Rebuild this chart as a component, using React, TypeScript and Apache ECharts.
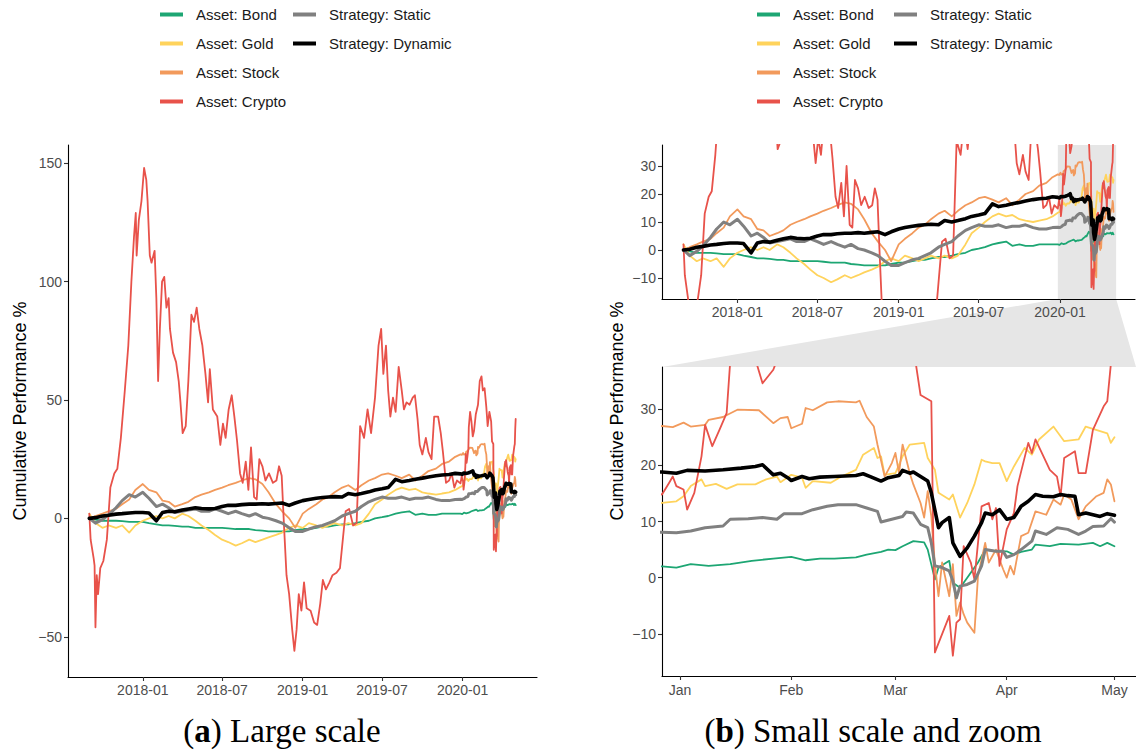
import React, { useEffect, useRef } from "react";
import * as echarts from "echarts";

const FONT = "'Liberation Sans', Arial, Helvetica, sans-serif";
const SERIF = "'Liberation Serif', 'Times New Roman', serif";

const seriesNames = ["Asset: Bond", "Asset: Gold", "Asset: Stock", "Asset: Crypto", "Strategy: Static", "Strategy: Dynamic"];
const assetNames = seriesNames.slice(0, 4);
const strategyNames = seriesNames.slice(4);
const seriesColors = ["#1DA673", "#FFD35C", "#F29A5C", "#E8524A", "#808080", "#000000"];
const seriesWidths = [1.8, 1.8, 1.8, 1.8, 3, 3.6];

const yTicksLarge = [-50, 0, 50, 100, 150];
const yTicksSmall = [-10, 0, 10, 20, 30];
const xTicksLong = ["2018-01-01", "2018-07-01", "2019-01-01", "2019-07-01", "2020-01-01"];
const xTicksZoom = ["2020-01-01", "2020-02-01", "2020-03-01", "2020-04-01", "2020-05-01"];
const monthNames = ["Jan", "Feb", "Mar", "Apr", "May", "Jun", "Jul", "Aug", "Sep", "Oct", "Nov", "Dec"];

// half-monthly dates before 2020
const halfMonths = [
  "2017-09-01", "2017-09-15", "2017-10-01", "2017-10-15", "2017-11-01", "2017-11-15", "2017-12-01", "2017-12-15",
  "2018-01-01", "2018-01-15", "2018-02-01", "2018-02-15", "2018-03-01", "2018-03-15", "2018-04-01", "2018-04-15",
  "2018-05-01", "2018-05-15", "2018-06-01", "2018-06-15", "2018-07-01", "2018-07-15", "2018-08-01", "2018-08-15",
  "2018-09-01", "2018-09-15", "2018-10-01", "2018-10-15", "2018-11-01", "2018-11-15", "2018-12-01", "2018-12-15",
  "2019-01-01", "2019-01-15", "2019-02-01", "2019-02-15", "2019-03-01", "2019-03-15", "2019-04-01", "2019-04-15",
  "2019-05-01", "2019-05-15", "2019-06-01", "2019-06-15", "2019-07-01", "2019-07-15", "2019-08-01", "2019-08-15",
  "2019-09-01", "2019-09-15", "2019-10-01", "2019-10-15", "2019-11-01", "2019-11-15", "2019-12-01", "2019-12-15",
];

const bondPre = [
  0, -0.5, -1, -1, -1, -1.2, -1.5, -1.5,
  -1.5, -2, -2.5, -3, -3, -3.2, -3.5, -3.5, -4, -4, -4, -4, -4, -4.2, -4.5, -4.5, -4.5, -5, -5.2, -5.5, -5.5, -5.5, -5.5, -5,
  -4.5, -4.5, -4, -3.5, -3.5, -3, -2.5, -2.5, -2, -1.5, -1, 0, 0.5, 1, 2, 2.5, 3, 1.5, 2, 1.5, 1.5, 2, 2, 2,
];
const goldPre = [
  2, -2, -4, -3, -4, -3, -6, -3,
  -1, 0, 1, 0, 1, 0, 2, 1, -1, -3, -5, -7, -9, -10, -11.5, -10.5, -9, -10, -9, -8, -7, -6, -4, -3,
  -4, -2, -3, -4, -3, -2, -3, -2, -3, -2, 2, 6, 8, 10, 12, 13, 12, 12.5, 11, 10.5, 10, 10.5, 11, 12,
];
const stockPre = [
  0, 1, 2, 3, 4, 6, 8, 12,
  14.5, 12, 11, 7.5, 7, 5, 6, 7, 9, 10, 11, 12, 13, 14, 15, 16, 17, 16.5, 14.5, 11, 6, 3, 0, -4,
  2, 4, 6, 8, 9, 11, 13, 14, 12, 14, 16, 17, 18.5, 19, 18, 17, 18.5, 16, 18, 20, 21, 23, 24, 26,
];
const staticPre = [
  0, -2, -0.5, 1.5, 4.5, 7.5, 10, 9,
  11, 8.5, 5, 6, 4.5, 2.5, 3, 3.5, 4, 3, 3, 4, 3, 2, 3, 2, 1, 2, 0.5, 0, -1, -2, -4, -5.5,
  -5.5, -4.5, -3.5, -3, -2, -1, 1, 2, 3, 5, 7, 8, 9, 8.5, 8.5, 9, 8, 8.5, 8.5, 9, 8, 7.5, 7.5, 8,
];
const dynamicPre = [
  0, 0.3, 1, 1.3, 1.8, 2, 2.3, 2.5,
  2.5, 2.3, -1, 2.5, 3, 2.8, 3.5, 4, 4.5, 4.2, 4, 4.2, 5, 5.5, 5.5, 5.8, 6, 6, 6.2, 6, 6.3, 6.5, 5.5, 6.5,
  7.5, 8, 8.5, 8.8, 9, 9.2, 9, 10.5, 10, 10.5, 11.2, 12, 12.5, 13, 16.5, 15.5, 16, 16.5, 17, 17.5, 18, 18.3, 18.5, 19,
];

const cryptoPre: [string, number][] = [
  ["2017-09-01", 2], ["2017-09-04", -9], ["2017-09-11", -17], ["2017-09-13", -20], ["2017-09-15", -46], ["2017-09-18", -24],
  ["2017-09-21", -32], ["2017-09-26", -21], ["2017-10-03", -18], ["2017-10-11", -9], ["2017-10-19", 13], ["2017-10-28", 19],
  ["2017-11-04", 21], ["2017-11-12", 34], ["2017-11-21", 54], ["2017-11-29", 73], ["2017-12-06", 100], ["2017-12-12", 119],
  ["2017-12-16", 129], ["2017-12-18", 111], ["2017-12-23", 126], ["2017-12-29", 134], ["2018-01-04", 148], ["2018-01-09", 143],
  ["2018-01-12", 134], ["2018-01-17", 111], ["2018-01-21", 108], ["2018-01-28", 113], ["2018-02-01", 93], ["2018-02-05", 58],
  ["2018-02-09", 80], ["2018-02-14", 100], ["2018-02-19", 102], ["2018-02-24", 89], ["2018-03-01", 93], ["2018-03-04", 80],
  ["2018-03-11", 70], ["2018-03-18", 66], ["2018-03-24", 58], ["2018-03-28", 49], ["2018-04-02", 36], ["2018-04-09", 39],
  ["2018-04-15", 58], ["2018-04-22", 86], ["2018-04-28", 83], ["2018-05-04", 89], ["2018-05-10", 80], ["2018-05-17", 73],
  ["2018-05-24", 61], ["2018-05-30", 49], ["2018-06-03", 63], ["2018-06-10", 46], ["2018-06-20", 43], ["2018-06-27", 31],
  ["2018-07-03", 40], ["2018-07-09", 34], ["2018-07-16", 46], ["2018-07-23", 52], ["2018-07-29", 43], ["2018-08-04", 33],
  ["2018-08-11", 19], ["2018-08-17", 15], ["2018-08-24", 24], ["2018-08-30", 12], ["2018-09-05", 30], ["2018-09-12", 9],
  ["2018-09-18", 8], ["2018-09-24", 25], ["2018-10-01", 22], ["2018-10-08", 16], ["2018-10-16", 19], ["2018-10-25", 15],
  ["2018-11-02", 16], ["2018-11-08", 22], ["2018-11-14", 18], ["2018-11-19", -2], ["2018-11-25", -24], ["2018-12-01", -32],
  ["2018-12-08", -47], ["2018-12-13", -56], ["2018-12-18", -47], ["2018-12-23", -32], ["2018-12-29", -39], ["2019-01-04", -27],
  ["2019-01-10", -38], ["2019-01-19", -39], ["2019-01-27", -44], ["2019-02-03", -45], ["2019-02-10", -36], ["2019-02-16", -26],
  ["2019-02-23", -30], ["2019-03-03", -27], ["2019-03-10", -24], ["2019-03-19", -23], ["2019-03-27", -21], ["2019-04-03", -8],
  ["2019-04-09", 3], ["2019-04-17", 4], ["2019-04-26", -3], ["2019-05-04", -2], ["2019-05-12", 39], ["2019-05-21", 34],
  ["2019-05-29", 46], ["2019-06-06", 36], ["2019-06-15", 51], ["2019-06-23", 73], ["2019-06-29", 80], ["2019-07-04", 61],
  ["2019-07-10", 73], ["2019-07-15", 54], ["2019-07-20", 43], ["2019-07-26", 51], ["2019-08-01", 45], ["2019-08-08", 64],
  ["2019-08-15", 54], ["2019-08-20", 46], ["2019-08-26", 49], ["2019-09-02", 48], ["2019-09-09", 51], ["2019-09-14", 52],
  ["2019-09-20", 42], ["2019-09-25", 31], ["2019-10-01", 27], ["2019-10-09", 34], ["2019-10-15", 28], ["2019-10-22", 25],
  ["2019-10-28", 43], ["2019-11-06", 43], ["2019-11-12", 36], ["2019-11-17", 28], ["2019-11-24", 15], ["2019-12-01", 16],
  ["2019-12-07", 19], ["2019-12-13", 13], ["2019-12-19", 16],
];

const bond2020: [string, number][] = [
  ["2019-12-27", 2.0], ["2019-12-31", 1.8], ["2020-01-04", 2.4], ["2020-01-09", 2.1], ["2020-01-15", 2.4], ["2020-01-21", 3.0],
  ["2020-01-27", 3.4], ["2020-02-01", 3.7], ["2020-02-05", 3.1], ["2020-02-09", 3.4], ["2020-02-13", 3.4], ["2020-02-19", 3.6],
  ["2020-02-22", 4.1], ["2020-02-26", 4.6], ["2020-02-28", 5.0], ["2020-03-01", 4.9], ["2020-03-03", 5.6], ["2020-03-06", 6.5],
  ["2020-03-09", 6.3], ["2020-03-10", 5.0], ["2020-03-12", -0.3], ["2020-03-13", 1.8], ["2020-03-16", 3.0], ["2020-03-17", -0.9],
  ["2020-03-19", -1.8], ["2020-03-21", 0], ["2020-03-24", 2.7], ["2020-03-26", 5.0], ["2020-03-29", 4.7], ["2020-04-01", 4.7],
  ["2020-04-03", 4.1], ["2020-04-05", 4.6], ["2020-04-08", 5.0], ["2020-04-09", 5.9], ["2020-04-13", 5.6], ["2020-04-16", 6.0],
  ["2020-04-21", 5.9], ["2020-04-25", 6.2], ["2020-04-27", 5.6], ["2020-04-29", 6.2], ["2020-05-01", 5.6],
];
const gold2020: [string, number][] = [
  ["2019-12-27", 13.3], ["2019-12-31", 13.6], ["2020-01-02", 14.5], ["2020-01-04", 16.3], ["2020-01-07", 17.5], ["2020-01-08", 16.3],
  ["2020-01-11", 16.7], ["2020-01-14", 15.8], ["2020-01-17", 16.6], ["2020-01-22", 16.6], ["2020-01-25", 17.5], ["2020-01-28", 18.0],
  ["2020-01-29", 17.0], ["2020-02-01", 18.3], ["2020-02-04", 17.8], ["2020-02-05", 16.0], ["2020-02-07", 17.2], ["2020-02-12", 16.9],
  ["2020-02-15", 18.0], ["2020-02-19", 19.2], ["2020-02-21", 21.9], ["2020-02-24", 23.1], ["2020-02-25", 21.3], ["2020-02-26", 21.6],
  ["2020-02-27", 18.3], ["2020-03-01", 18.6], ["2020-03-03", 21.6], ["2020-03-05", 23.7], ["2020-03-09", 24.0], ["2020-03-10", 21.3],
  ["2020-03-12", 19.2], ["2020-03-13", 15.1], ["2020-03-16", 13.9], ["2020-03-17", 14.8], ["2020-03-19", 10.7], ["2020-03-21", 13.3],
  ["2020-03-23", 16.6], ["2020-03-25", 21.0], ["2020-03-26", 20.7], ["2020-03-28", 20.4], ["2020-03-30", 20.4], ["2020-04-01", 17.2],
  ["2020-04-03", 19.8], ["2020-04-06", 23.1], ["2020-04-08", 21.9], ["2020-04-10", 24.6], ["2020-04-14", 26.9], ["2020-04-17", 24.3],
  ["2020-04-21", 24.6], ["2020-04-23", 26.9], ["2020-04-29", 25.7], ["2020-04-30", 24.0], ["2020-05-01", 25.0],
];
const stock2020: [string, number][] = [
  ["2019-12-27", 27.0], ["2019-12-30", 26.8], ["2020-01-02", 27.6], ["2020-01-04", 26.9], ["2020-01-08", 27.2], ["2020-01-09", 28.1],
  ["2020-01-13", 28.6], ["2020-01-17", 29.9], ["2020-01-23", 29.8], ["2020-01-27", 27.5], ["2020-01-29", 28.4], ["2020-01-31", 28.6],
  ["2020-02-01", 26.6], ["2020-02-04", 27.4], ["2020-02-05", 30.2], ["2020-02-07", 29.8], ["2020-02-11", 31.2], ["2020-02-14", 31.4],
  ["2020-02-19", 31.2], ["2020-02-20", 31.5], ["2020-02-22", 28.6], ["2020-02-24", 26.9], ["2020-02-25", 23.7], ["2020-02-27", 18.0],
  ["2020-02-29", 20.4], ["2020-03-01", 22.2], ["2020-03-02", 18.6], ["2020-03-03", 23.7], ["2020-03-05", 18.6], ["2020-03-06", 16.6],
  ["2020-03-08", 13.3], ["2020-03-09", 10.7], ["2020-03-10", 15.4], ["2020-03-11", 10.9], ["2020-03-12", 2.4], ["2020-03-13", -3.3],
  ["2020-03-14", 2.7], ["2020-03-16", -3.3], ["2020-03-17", 2.4], ["2020-03-18", -6.8], ["2020-03-19", -4.4], ["2020-03-20", -6.5],
  ["2020-03-21", -8.0], ["2020-03-23", -9.8], ["2020-03-24", 0.3], ["2020-03-26", 6.2], ["2020-03-27", 2.7], ["2020-03-29", 5.0],
  ["2020-03-31", 1.5], ["2020-04-01", 0], ["2020-04-02", 2.1], ["2020-04-03", 0.6], ["2020-04-05", 7.4], ["2020-04-07", 8.0],
  ["2020-04-09", 11.8], ["2020-04-12", 11.2], ["2020-04-14", 13.9], ["2020-04-16", 13.0], ["2020-04-17", 14.8], ["2020-04-19", 13.9],
  ["2020-04-21", 10.4], ["2020-04-23", 12.7], ["2020-04-26", 14.5], ["2020-04-28", 15.1], ["2020-04-29", 17.5], ["2020-04-30", 16.6],
  ["2020-05-01", 13.6],
];
const crypto2020: [string, number][] = [
  ["2019-12-27", 14.8], ["2019-12-29", 16.9], ["2019-12-30", 18.0], ["2019-12-31", 16.3], ["2020-01-02", 15.7], ["2020-01-03", 12.1],
  ["2020-01-05", 15.1], ["2020-01-07", 21.6], ["2020-01-08", 27.2], ["2020-01-10", 23.4], ["2020-01-12", 26.3], ["2020-01-14", 29.3],
  ["2020-01-15", 38.5], ["2020-01-18", 45], ["2020-01-21", 41], ["2020-01-24", 34.6], ["2020-01-27", 37], ["2020-01-31", 44],
  ["2020-02-05", 48], ["2020-02-09", 58], ["2020-02-13", 60], ["2020-02-16", 54], ["2020-02-20", 55], ["2020-02-24", 47],
  ["2020-02-27", 39], ["2020-03-02", 45], ["2020-03-06", 41], ["2020-03-08", 32.5], ["2020-03-11", 31.4], ["2020-03-12", -13.3],
  ["2020-03-16", -6.8], ["2020-03-17", -13.9], ["2020-03-18", -8.0], ["2020-03-19", -7.4], ["2020-03-20", 5.6], ["2020-03-22", 2.7],
  ["2020-03-23", -0.3], ["2020-03-25", 12.7], ["2020-03-27", 13.3], ["2020-03-28", 10.4], ["2020-03-29", 12.4], ["2020-03-30", 2.1],
  ["2020-04-01", 8.6], ["2020-04-03", 11.5], ["2020-04-04", 16.3], ["2020-04-07", 24.0], ["2020-04-08", 22.2], ["2020-04-09", 24.6],
  ["2020-04-13", 19.2], ["2020-04-15", 18.0], ["2020-04-16", 14.5], ["2020-04-17", 21.3], ["2020-04-20", 22.5], ["2020-04-21", 18.6],
  ["2020-04-23", 18.6], ["2020-04-25", 26.3], ["2020-04-28", 30.5], ["2020-04-29", 31.4], ["2020-04-30", 38], ["2020-05-01", 42],
];
const static2020: [string, number][] = [
  ["2019-12-27", 8.1], ["2019-12-31", 8.0], ["2020-01-04", 8.3], ["2020-01-08", 8.9], ["2020-01-13", 9.2], ["2020-01-15", 10.4],
  ["2020-01-20", 10.5], ["2020-01-24", 10.7], ["2020-01-28", 10.4], ["2020-01-30", 11.4], ["2020-02-04", 11.4], ["2020-02-07", 12.1],
  ["2020-02-11", 12.7], ["2020-02-14", 13.0], ["2020-02-19", 13.0], ["2020-02-22", 12.4], ["2020-02-25", 11.8], ["2020-02-26", 9.9],
  ["2020-02-29", 10.4], ["2020-03-03", 10.9], ["2020-03-04", 11.7], ["2020-03-06", 11.5], ["2020-03-08", 9.5], ["2020-03-10", 8.9],
  ["2020-03-11", 6.2], ["2020-03-12", 2.1], ["2020-03-14", 1.8], ["2020-03-16", 1.2], ["2020-03-17", -0.6], ["2020-03-18", -3.6],
  ["2020-03-19", -1.5], ["2020-03-21", -1.2], ["2020-03-23", -0.6], ["2020-03-25", 2.1], ["2020-03-26", 5.0], ["2020-03-29", 4.7],
  ["2020-03-31", 4.7], ["2020-04-01", 3.6], ["2020-04-03", 4.1], ["2020-04-05", 5.0], ["2020-04-08", 6.5], ["2020-04-09", 8.3],
  ["2020-04-12", 7.7], ["2020-04-15", 8.9], ["2020-04-18", 8.6], ["2020-04-21", 7.7], ["2020-04-23", 8.3], ["2020-04-25", 9.1],
  ["2020-04-28", 9.2], ["2020-04-30", 10.5], ["2020-05-01", 9.9],
];
const dynamic2020: [string, number][] = [
  ["2019-12-27", 18.8], ["2019-12-31", 18.6], ["2020-01-03", 19.1], ["2020-01-08", 19.0], ["2020-01-13", 19.2], ["2020-01-18", 19.5],
  ["2020-01-22", 19.8], ["2020-01-24", 20.1], ["2020-01-27", 18.3], ["2020-01-29", 18.6], ["2020-01-31", 17.8], ["2020-02-01", 17.3],
  ["2020-02-04", 18.0], ["2020-02-06", 17.6], ["2020-02-09", 17.9], ["2020-02-13", 18.0], ["2020-02-19", 18.2], ["2020-02-21", 18.5],
  ["2020-02-23", 18.0], ["2020-02-26", 17.2], ["2020-02-28", 17.8], ["2020-03-02", 18.2], ["2020-03-03", 19.1], ["2020-03-05", 18.6],
  ["2020-03-06", 18.8], ["2020-03-08", 18.0], ["2020-03-10", 17.2], ["2020-03-11", 15.1], ["2020-03-13", 8.9], ["2020-03-14", 9.8],
  ["2020-03-16", 10.7], ["2020-03-17", 6.2], ["2020-03-19", 3.8], ["2020-03-21", 5.3], ["2020-03-23", 7.4], ["2020-03-25", 9.8],
  ["2020-03-26", 11.5], ["2020-03-28", 11.2], ["2020-03-30", 12.1], ["2020-04-01", 10.4], ["2020-04-03", 10.7], ["2020-04-05", 12.7],
  ["2020-04-07", 13.6], ["2020-04-09", 14.8], ["2020-04-11", 14.5], ["2020-04-14", 14.4], ["2020-04-16", 14.8], ["2020-04-18", 14.6],
  ["2020-04-20", 14.5], ["2020-04-21", 11.2], ["2020-04-23", 11.5], ["2020-04-25", 11.2], ["2020-04-27", 10.9], ["2020-04-29", 11.4],
  ["2020-05-01", 11.1],
];

const toTs = (s: string) => {
  const [y, m, d] = s.split("-").map(Number);
  return new Date(y, m - 1, d).getTime();
};
const fromPre = (vals: number[]) => halfMonths.map((d, i) => [toTs(d), vals[i]]);
const fromPairs = (arr: [string, number][]) => arr.map(([d, v]) => [toTs(d), v]);

const fmtNum = (v: number) => (v < 0 ? "\u2212" + Math.abs(v) : String(v));
const fmtYM = (v: number) => {
  const d = new Date(v);
  return d.getFullYear() + "-" + String(d.getMonth() + 1).padStart(2, "0");
};
const fmtMon = (v: number) => monthNames[new Date(v).getMonth()];

export default function App() {
  const ref = useRef<HTMLDivElement>(null);
  useEffect(() => {
    if (!ref.current) return;
    const chart = echarts.init(ref.current, null, { renderer: "svg" });

    const allData = [
      [...fromPre(bondPre), ...fromPairs(bond2020)],
      [...fromPre(goldPre), ...fromPairs(gold2020)],
      [...fromPre(stockPre), ...fromPairs(stock2020)],
      [...fromPairs(cryptoPre), ...fromPairs(crypto2020)],
      [...fromPre(staticPre), ...fromPairs(static2020)],
      [...fromPre(dynamicPre), ...fromPairs(dynamic2020)],
    ];

    const dataStart = toTs("2017-09-01");
    const dataEnd = toTs("2020-05-01");
    const pad = (dataEnd - dataStart) * 0.05;
    const longMin = dataStart - pad;
    const longMax = dataEnd + pad;
    const zoomMin = toTs("2019-12-27");
    const zoomMax = toTs("2020-05-07");
    const largeMin = -67;
    const largeMax = 157.7;
    const smallMin = -17.5;
    const smallMax = 37.5;

    const longTickTs = xTicksLong.map(toTs);
    const zoomTickTs = xTicksZoom.map(toTs);

    const axisLine = { show: true, onZero: false, lineStyle: { color: "#000", width: 1.1 } };
    const tick = (vals: number[]) => ({ show: true, length: 4, lineStyle: { color: "#333", width: 1.1 }, customValues: vals });
    const label = (vals: number[], fmt: any, margin: number) => ({
      show: true, color: "#4D4D4D", fontSize: 14, fontFamily: FONT, margin, customValues: vals, formatter: fmt,
    });

    const xAxes = [
      { type: "value", gridIndex: 0, min: longMin, max: longMax, axisLine, axisTick: tick(longTickTs), axisLabel: label(longTickTs, fmtYM, 6), splitLine: { show: false } },
      { type: "value", gridIndex: 1, min: longMin, max: longMax, axisLine, axisTick: tick(longTickTs), axisLabel: label(longTickTs, fmtYM, 6), splitLine: { show: false } },
      { type: "value", gridIndex: 2, min: zoomMin, max: zoomMax, axisLine, axisTick: tick(zoomTickTs), axisLabel: label(zoomTickTs, fmtMon, 7), splitLine: { show: false } },
    ];
    const yAxes = [
      {
        type: "value", gridIndex: 0, min: largeMin, max: largeMax, axisLine, axisTick: tick(yTicksLarge),
        axisLabel: label(yTicksLarge, fmtNum, 6), splitLine: { show: false },
        name: "Cumulative Performance %", nameLocation: "middle", nameGap: 39, nameRotate: 90,
        nameTextStyle: { fontSize: 18, color: "#000", fontFamily: FONT },
      },
      { type: "value", gridIndex: 1, min: smallMin, max: smallMax, axisLine, axisTick: tick(yTicksSmall), axisLabel: label(yTicksSmall, fmtNum, 6), splitLine: { show: false } },
      { type: "value", gridIndex: 2, min: smallMin, max: smallMax, axisLine, axisTick: tick(yTicksSmall), axisLabel: label(yTicksSmall, fmtNum, 6), splitLine: { show: false } },
    ];

    const series: any[] = [
      {
        type: "line", xAxisIndex: 1, yAxisIndex: 1, data: [], z: 1, silent: true,
        markArea: {
          silent: true, itemStyle: { color: "#E6E6E6" },
          data: [[{ xAxis: zoomMin, yAxis: smallMin }, { xAxis: zoomMax, yAxis: smallMax }]],
        },
      },
    ];
    for (let g = 0; g < 3; g++) {
      seriesNames.forEach((name, i) => {
        series.push({
          type: "line", name, xAxisIndex: g, yAxisIndex: g, data: allData[i],
          showSymbol: false, symbol: "none", silent: true, clip: true, z: 3 + i,
          color: seriesColors[i],
          lineStyle: { color: seriesColors[i], width: seriesWidths[i], join: "round", cap: "round" },
        });
      });
    }

    const legendBase = {
      orient: "vertical", top: 6, icon: "rect", itemWidth: 23, itemHeight: 4, itemGap: 12,
      selectedMode: false, padding: 0,
      textStyle: { fontSize: 15, color: "#1A1A1A", fontFamily: FONT, padding: [0, 0, 0, 8], lineHeight: 17 },
    };

    chart.setOption({
      animation: false,
      backgroundColor: "#fff",
      grid: [
        { left: 68, top: 145, width: 469, height: 532 },
        { left: 662, top: 145, width: 473, height: 154 },
        { left: 662, top: 367, width: 474, height: 309 },
      ],
      legend: [
        { ...legendBase, left: 160, data: assetNames },
        { ...legendBase, left: 293, data: strategyNames },
        { ...legendBase, left: 757, data: assetNames },
        { ...legendBase, left: 894, data: strategyNames },
      ],
      xAxis: xAxes,
      yAxis: yAxes,
      series,
    });

    const p1 = chart.convertToPixel({ gridIndex: 1 } as any, [zoomMin, smallMin]) as number[];
    const p2 = chart.convertToPixel({ gridIndex: 1 } as any, [zoomMax, smallMin]) as number[];
    const p3 = chart.convertToPixel({ gridIndex: 2 } as any, [zoomMax, smallMax]) as number[];
    const p4 = chart.convertToPixel({ gridIndex: 2 } as any, [zoomMin, smallMax]) as number[];

    const capRich = {
      p: { fontSize: 33, fontFamily: SERIF, fill: "#000" },
      b: { fontSize: 33, fontFamily: SERIF, fill: "#000", fontWeight: "bold" },
    };

    chart.setOption({
      graphic: [
        {
          type: "polygon", z: -1, silent: true,
          shape: { points: [p1, p2, p3, p4] },
          style: { fill: "#E6E6E6" },
        },
        {
          type: "text", x: 617, y: 411, rotation: Math.PI / 2, silent: true,
          style: { text: "Cumulative Performance %", fontSize: 18, fontFamily: FONT, fill: "#000", align: "center", verticalAlign: "middle" },
        },
        {
          type: "text", x: 282, y: 731, silent: true,
          style: { text: "{p|(}{b|a}{p|) Large scale}", align: "center", verticalAlign: "middle", rich: capRich },
        },
        {
          type: "text", x: 873, y: 731, silent: true,
          style: { text: "{p|(}{b|b}{p|) Small scale and zoom}", align: "center", verticalAlign: "middle", rich: capRich },
        },
      ],
    });

    return () => chart.dispose();
  }, []);

  return <div ref={ref} style={{ position: "absolute", left: 0, top: 0, width: 1136, height: 750 }} />;
}
